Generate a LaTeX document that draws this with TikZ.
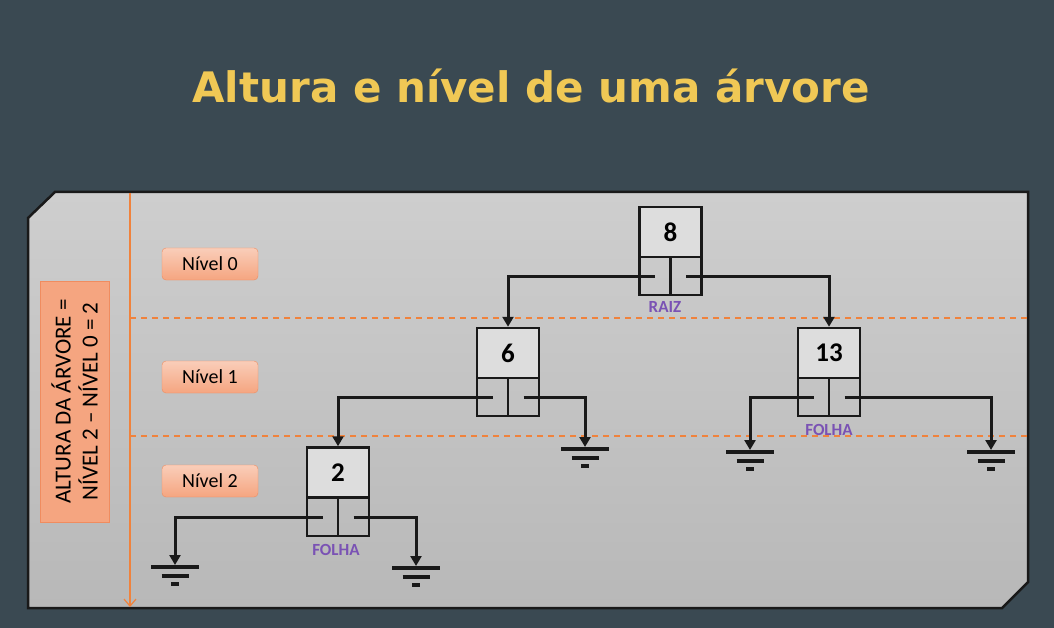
\documentclass[tikz,border=0pt]{standalone}
\usepackage{fontspec}
\setmainfont{Carlito}
\newfontfamily\titlefont{DejaVu Sans}
\usetikzlibrary{arrows.meta}

\definecolor{slate}{RGB}{58,73,82}
\definecolor{panelTop}{RGB}{206,206,206}
\definecolor{panelBot}{RGB}{184,184,184}
\definecolor{cellgray}{RGB}{221,221,221}
\definecolor{gold}{RGB}{240,200,85}
\definecolor{orangeline}{RGB}{240,130,60}
\definecolor{salmon}{RGB}{245,165,128}
\definecolor{salmonborder}{RGB}{240,140,95}
\definecolor{purpleT}{RGB}{122,82,180}

\tikzset{
    ptr/.style={draw=black!90, line width=3pt, -{Triangle[length=10pt,width=11pt]}},
    ground/.pic={
        \draw[black!90, line width=4.5pt] (-24,2) -- (24,2);
        \draw[black!90, line width=4.5pt] (-13.5,11) -- (13.5,11);
        \draw[black!90, line width=4.5pt] (-4,19) -- (4,19);
    }
}

\begin{document}
\begin{tikzpicture}[x=1pt,y=-1pt]
        \useasboundingbox[fill=slate] (0,0) rectangle (1054,628);

        \node[font=\titlefont\bfseries\fontsize{42}{46}\selectfont, text=gold] (title) at (531,86) {Altura e nível de uma árvore};

        % panel
        \shadedraw[top color=panelTop, bottom color=panelBot, draw=black!90, line width=2.5pt]
            (55,192) -- (1028,192) -- (1028,582) -- (1002,608) -- (28,608) -- (28,218) -- cycle;

        % levels
        \coordinate (axTop) at (130,193);
        \coordinate (axBot) at (130,607);
        \coordinate (d1a) at (130,318);
        \coordinate (d1b) at (1028,318);
        \coordinate (d2a) at (130,436);
        \coordinate (d2b) at (1028,436);
        \draw[orangeline, line width=1.2pt, -{Straight Barb[length=7pt,width=12pt]}] (axTop) -- (axBot);
        \draw[orangeline, line width=1.5pt, dash pattern=on 6pt off 5pt] (d1a) -- (d1b);
        \draw[orangeline, line width=1.5pt, dash pattern=on 6pt off 5pt] (d2a) -- (d2b);

        \begin{scope}[every node/.style={draw=salmonborder, top color=salmon!55, bottom color=salmon, rounded corners=4pt,
                      minimum width=96pt, minimum height=32pt, font=\fontsize{20}{22}\selectfont}]
            \node (L0) at (210,264) {Nível 0};
            \node (L1) at (210,377) {Nível 1};
            \node (L2) at (210,481) {Nível 2};
        \end{scope}

        \node[draw=salmonborder, fill=salmon, rotate=90, minimum width=241pt, minimum height=69pt, inner sep=0pt,
              align=center, font=\fontsize{23}{27}\selectfont] (H) at (74.5,401.5)
              {ALTURA DA ÁRVORE =\\NÍVEL 2 – NÍVEL 0 = 2};

        % tree
        \begin{scope}[every node/.style={draw=black!90, line width=2.5pt, fill=cellgray, inner sep=0pt,
                      minimum width=62pt, minimum height=50pt, font=\bfseries\fontsize{27}{30}\selectfont}]
            \node (N8) at (670.5,232) {8};
            \node (N6) at (508,353) {6};
            \node (N13) at (829,353) {13};
            \node (N2) at (338,472.5) {2};
        \end{scope}

        \begin{scope}[every node/.style={draw=black!90, line width=2.5pt, inner sep=0pt,
                      minimum width=31pt, minimum height=38pt}]
            \node (N8l) at (655,276) {};
            \node (N8r) at (686,276) {};
            \node (N6l) at (492.5,397) {};
            \node (N6r) at (523.5,397) {};
            \node (N13l) at (813.5,397) {};
            \node (N13r) at (844.5,397) {};
            \node (N2l) at (322.5,517) {};
            \node (N2r) at (353.5,517) {};
        \end{scope}

        \begin{scope}[every node/.style={text=purpleT, font=\bfseries\fontsize{17}{18}\selectfont}]
            \node (raiz) at (665,307) {RAIZ};
            \node (folha13) at (829,430) {FOLHA};
            \node (folha2) at (336,550) {FOLHA};
        \end{scope}

        \coordinate (G6r) at (585,447);
        \coordinate (G13l) at (750,450);
        \coordinate (G13r) at (991,450);
        \coordinate (G2l) at (175,565);
        \coordinate (G2r) at (416,566);

        \draw [ptr] (N8l.center) -| (N6.north);
        \draw [ptr] (N8r.center) -| (N13.north);
        \draw [ptr] (N6l.center) -| (N2.north);
        \draw [ptr] (N6r.center) -| (G6r);
        \draw [ptr] (N13l.center) -| (G13l);
        \draw [ptr] (N13r.center) -| (G13r);
        \draw [ptr] (N2l.center) -| (G2l);
        \draw [ptr] (N2r.center) -| (G2r);

        \pic at (G6r) {ground};
        \pic at (G13l) {ground};
        \pic at (G13r) {ground};
        \pic at (G2l) {ground};
        \pic at (G2r) {ground};
    \end{tikzpicture}
\end{document}
